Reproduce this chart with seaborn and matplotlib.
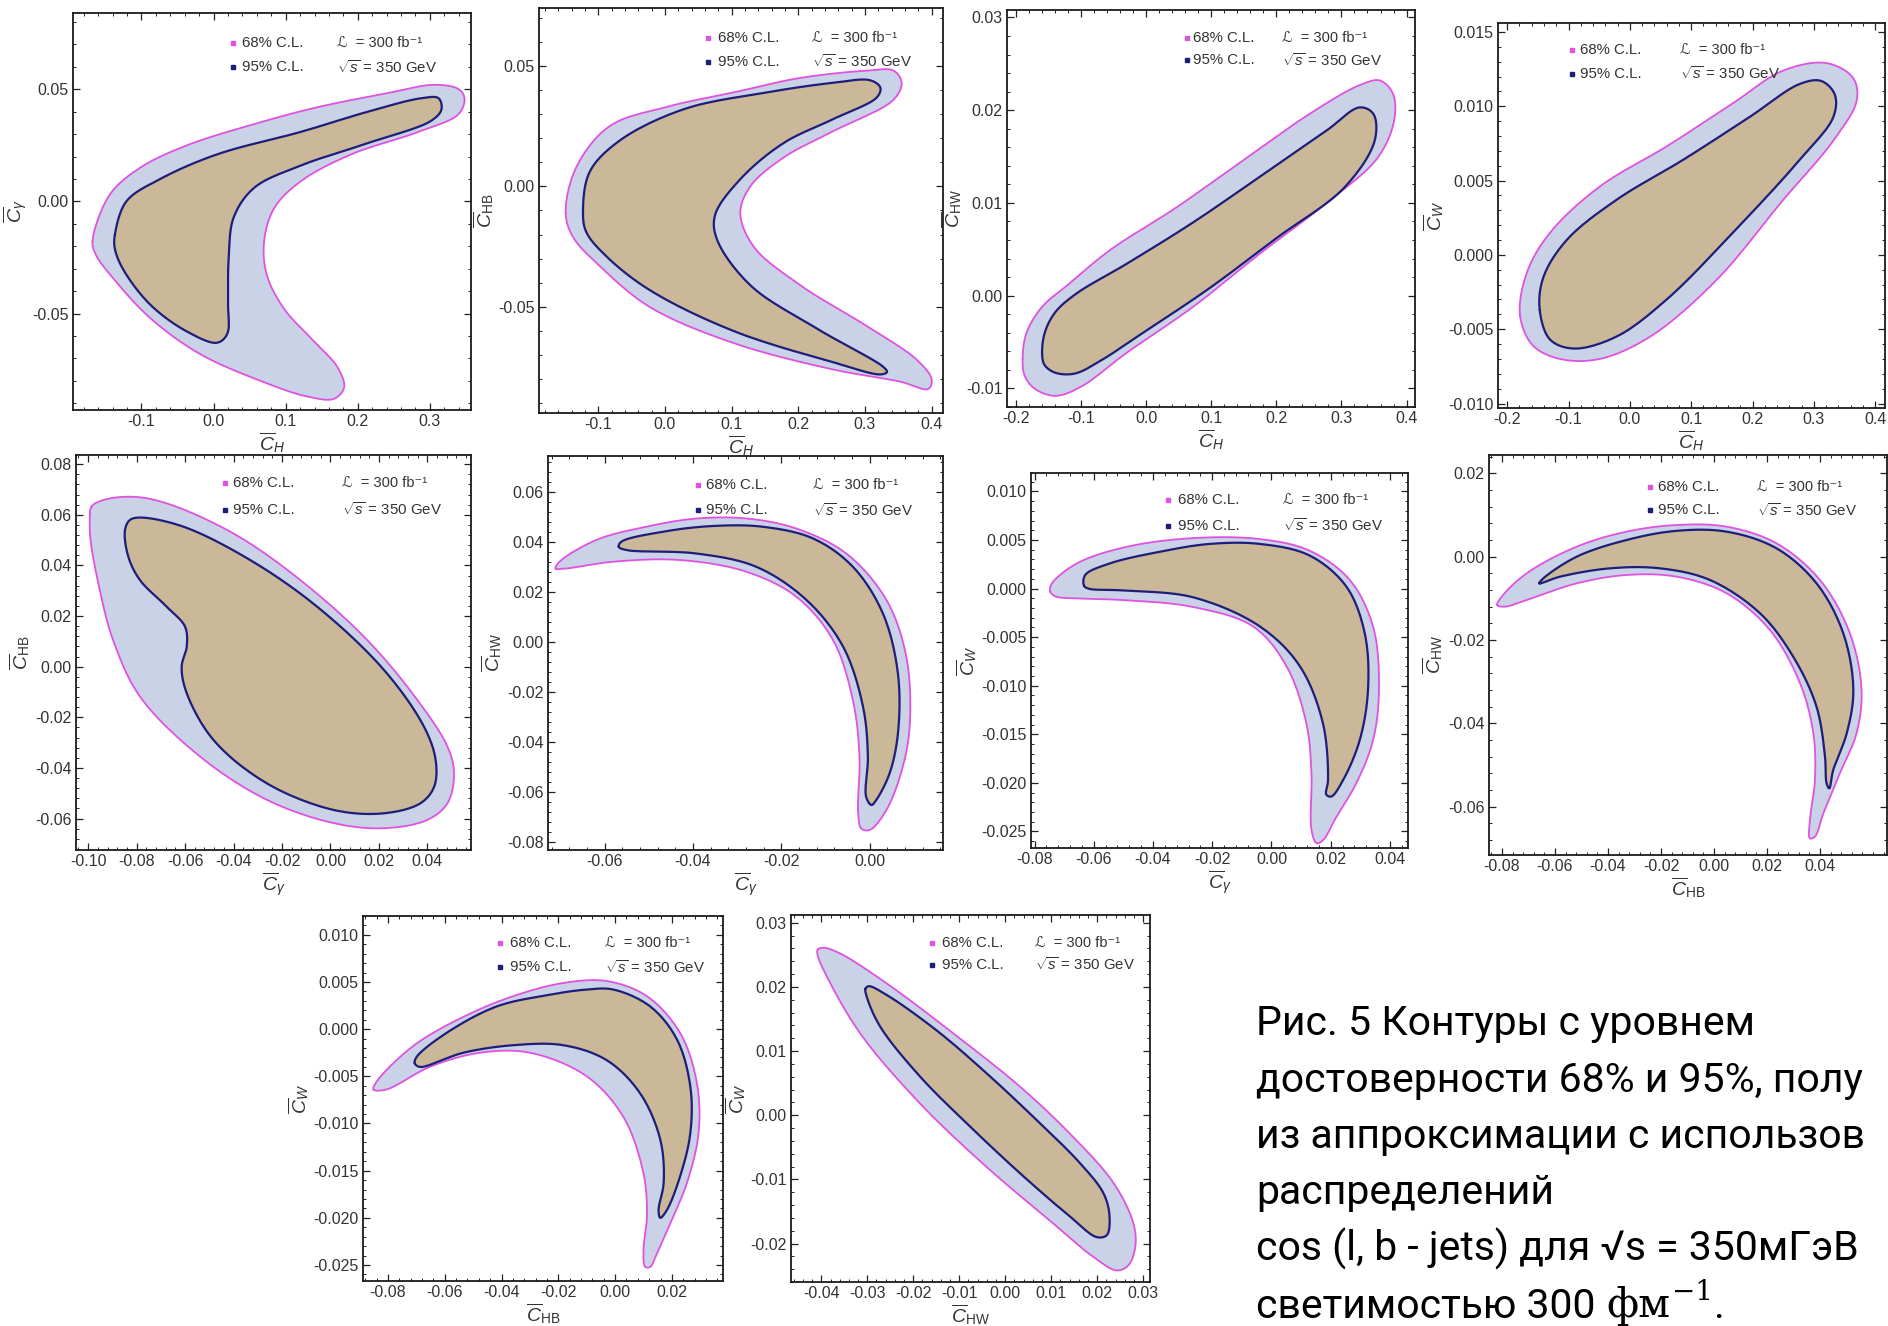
import numpy as np
import matplotlib
matplotlib.use("Agg")
import matplotlib.pyplot as plt
import seaborn as sns
from matplotlib.ticker import FixedLocator, FormatStrFormatter, AutoMinorLocator
from matplotlib.transforms import IdentityTransform

# ---------------- data: contour outlines ----------------
P1_OUTER = [(-0.168, -0.018), (-0.144, 0.003), (-0.102, 0.015), (-0.037, 0.025), (0.051, 0.034),
            (0.144, 0.042), (0.237, 0.048), (0.307, 0.052), (0.340, 0.050), (0.348, 0.046), (0.340, 0.039),
            (0.284, 0.031), (0.191, 0.021), (0.121, 0.009), (0.084, -0.003), (0.070, -0.018), (0.074, -0.033),
            (0.098, -0.048), (0.135, -0.061), (0.172, -0.074), (0.181, -0.083), (0.167, -0.088), (0.130, -0.087),
            (0.065, -0.080), (-0.019, -0.068), (-0.088, -0.052), (-0.140, -0.034), (-0.163, -0.024)]
P1_INNER = [(-0.137, -0.015), (-0.121, 0.000), (-0.074, 0.010), (0.005, 0.021), (0.121, 0.031),
            (0.214, 0.040), (0.288, 0.046), (0.312, 0.046), (0.316, 0.041), (0.302, 0.036),
            (0.214, 0.026), (0.121, 0.016), (0.056, 0.006), (0.028, -0.007), (0.021, -0.024), (0.020, -0.045),
            (0.019, -0.059), (0.005, -0.063), (-0.037, -0.058), (-0.088, -0.046), (-0.126, -0.030), (-0.137, -0.021)]

P2_OUTER = [(-0.149, -0.011), (-0.133, 0.008), (-0.083, 0.025), (0.003, 0.033), (0.103, 0.039), (0.203, 0.045),
            (0.303, 0.048), (0.343, 0.048), (0.355, 0.043), (0.343, 0.036), (0.253, 0.023), (0.178, 0.012),
            (0.128, 0.000), (0.113, -0.011), (0.133, -0.025), (0.203, -0.041), (0.303, -0.058), (0.378, -0.072),
            (0.400, -0.080), (0.395, -0.084), (0.353, -0.081), (0.253, -0.076), (0.103, -0.065), (-0.023, -0.050),
            (-0.098, -0.033), (-0.138, -0.021)]
P2_INNER = [(-0.123, -0.011), (-0.113, 0.006), (-0.068, 0.019), (0.028, 0.032), (0.153, 0.039), (0.253, 0.043),
            (0.308, 0.044), (0.323, 0.041), (0.318, 0.037), (0.253, 0.028), (0.178, 0.018), (0.113, 0.003),
            (0.075, -0.012), (0.078, -0.022), (0.128, -0.041), (0.228, -0.059), (0.328, -0.075), (0.333, -0.077),
            (0.323, -0.078), (0.253, -0.073), (0.103, -0.060), (-0.023, -0.043), (-0.088, -0.029), (-0.118, -0.019)]

P3_OUTER = [(-0.190, -0.0068), (-0.184, -0.0040), (-0.160, -0.0012), (-0.120, 0.0012), (-0.056, 0.0049),
            (0.046, 0.0095), (0.149, 0.0146), (0.251, 0.0196), (0.328, 0.0227), (0.359, 0.0232), (0.379, 0.0218),
            (0.381, 0.0189), (0.356, 0.0149), (0.277, 0.0100), (0.174, 0.0045), (0.072, -0.0012),
            (-0.031, -0.0062), (-0.100, -0.0098), (-0.140, -0.0108), (-0.172, -0.0100), (-0.187, -0.0086)]
P3_INNER = [(-0.160, -0.0064), (-0.156, -0.0040), (-0.140, -0.0018), (-0.108, 0.0002), (-0.031, 0.0034),
            (0.072, 0.0079), (0.174, 0.0128), (0.277, 0.0178), (0.328, 0.0203), (0.349, 0.0196), (0.351, 0.0167),
            (0.305, 0.0117), (0.200, 0.0062), (0.097, 0.0008), (-0.005, -0.0040), (-0.070, -0.0070),
            (-0.110, -0.0084), (-0.140, -0.0083), (-0.156, -0.0075)]

P4_OUTER = [(-0.179, -0.0041), (-0.168, -0.0012), (-0.130, 0.0015), (-0.049, 0.0046), (0.060, 0.0073),
            (0.168, 0.0102), (0.250, 0.0124), (0.321, 0.0129), (0.364, 0.0119), (0.370, 0.0104), (0.332, 0.0077),
            (0.250, 0.0037), (0.141, -0.0017), (0.033, -0.0055), (-0.049, -0.0070), (-0.114, -0.0070),
            (-0.158, -0.0061)]
P4_INNER = [(-0.147, -0.0037), (-0.141, -0.0015), (-0.103, 0.0010), (-0.022, 0.0037), (0.087, 0.0064),
            (0.196, 0.0093), (0.277, 0.0115), (0.312, 0.0117), (0.334, 0.0108), (0.332, 0.0093), (0.277, 0.0064),
            (0.168, 0.0015), (0.060, -0.0030), (-0.022, -0.0055), (-0.092, -0.0063), (-0.130, -0.0057)]

P5_OUTER = [(-0.0986, 0.0632), (-0.0938, 0.0658), (-0.0814, 0.0671), (-0.0676, 0.0645), (-0.0400, 0.0526),
            (-0.0124, 0.0342), (0.0152, 0.0105), (0.0359, -0.0132), (0.0483, -0.0316), (0.0510, -0.0421),
            (0.0483, -0.0539), (0.0400, -0.0605), (0.0221, -0.0638), (0.0014, -0.0618), (-0.0262, -0.0526),
            (-0.0538, -0.0355), (-0.0786, -0.0118), (-0.0897, 0.0105), (-0.0952, 0.0303), (-0.0990, 0.0500),
            (-0.0993, 0.0579)]
P5_INNER = [(-0.0848, 0.0539), (-0.0828, 0.0579), (-0.0786, 0.0589), (-0.0607, 0.0553), (-0.0331, 0.0421),
            (-0.0055, 0.0237), (0.0221, -0.0013), (0.0386, -0.0237), (0.0434, -0.0368), (0.0428, -0.0474),
            (0.0372, -0.0539), (0.0221, -0.0579), (0.0014, -0.0566), (-0.0262, -0.0461), (-0.0483, -0.0289),
            (-0.0593, -0.0105), (-0.0614, 0.0000), (-0.0593, 0.0079), (-0.0600, 0.0158), (-0.0676, 0.0237),
            (-0.0786, 0.0342), (-0.0834, 0.0434)]

P6_OUTER = [(-0.0711, 0.0293), (-0.0702, 0.0320), (-0.0619, 0.0407), (-0.0506, 0.0460), (-0.0392, 0.0493),
            (-0.0279, 0.0493), (-0.0166, 0.0453), (-0.0053, 0.0353), (0.0038, 0.0167), (0.0083, -0.0060),
            (0.0091, -0.0327), (0.0075, -0.0500), (0.0038, -0.0673), (0.0000, -0.0753), (-0.0019, -0.0747),
            (-0.0026, -0.0687), (-0.0023, -0.0460), (-0.0038, -0.0233), (-0.0083, 0.0007), (-0.0166, 0.0180),
            (-0.0279, 0.0280), (-0.0430, 0.0327), (-0.0581, 0.0320), (-0.0687, 0.0293)]
P6_INNER = [(-0.0568, 0.0380), (-0.0562, 0.0400), (-0.0468, 0.0440), (-0.0355, 0.0463), (-0.0242, 0.0460),
            (-0.0128, 0.0413), (-0.0038, 0.0300), (0.0030, 0.0113), (0.0064, -0.0127), (0.0064, -0.0367),
            (0.0045, -0.0527), (0.0015, -0.0633), (0.0004, -0.0653), (-0.0008, -0.0620), (-0.0004, -0.0460),
            (-0.0015, -0.0260), (-0.0060, -0.0020), (-0.0143, 0.0167), (-0.0257, 0.0300), (-0.0392, 0.0353),
            (-0.0551, 0.0367)]

P7_OUTER = [(-0.0747, -0.0003), (-0.0742, 0.0005), (-0.0657, 0.0026), (-0.0489, 0.0043), (-0.0264, 0.0052),
            (-0.0039, 0.0051), (0.0129, 0.0039), (0.0264, 0.0009), (0.0343, -0.0039), (0.0363, -0.0104),
            (0.0343, -0.0156), (0.0287, -0.0200), (0.0219, -0.0235), (0.0174, -0.0259), (0.0152, -0.0262),
            (0.0135, -0.0248), (0.0135, -0.0190), (0.0118, -0.0139), (0.0051, -0.0080), (-0.0062, -0.0039),
            (-0.0264, -0.0019), (-0.0489, -0.0012), (-0.0657, -0.0010), (-0.0730, -0.0008)]
P7_INNER = [(-0.0633, 0.0003), (-0.0629, 0.0014), (-0.0545, 0.0026), (-0.0376, 0.0038), (-0.0208, 0.0046),
            (-0.0039, 0.0046), (0.0129, 0.0034), (0.0253, 0.0002), (0.0315, -0.0046), (0.0326, -0.0104),
            (0.0298, -0.0156), (0.0242, -0.0197), (0.0202, -0.0214), (0.0185, -0.0212), (0.0191, -0.0197),
            (0.0174, -0.0139), (0.0096, -0.0080), (-0.0039, -0.0039), (-0.0264, -0.0009), (-0.0489, -0.0002),
            (-0.0618, 0.0000)]

P8_OUTER = [(-0.0818, -0.0116), (-0.0801, -0.0096), (-0.0707, -0.0040), (-0.0518, 0.0024), (-0.0330, 0.0060),
            (-0.0141, 0.0076), (0.0048, 0.0072), (0.0236, 0.0032), (0.0400, -0.0056), (0.0513, -0.0184),
            (0.0557, -0.0320), (0.0538, -0.0424), (0.0475, -0.0520), (0.0413, -0.0616), (0.0381, -0.0672),
            (0.0362, -0.0676), (0.0362, -0.0632), (0.0381, -0.0536), (0.0375, -0.0424), (0.0325, -0.0304),
            (0.0211, -0.0176), (0.0048, -0.0088), (-0.0141, -0.0048), (-0.0330, -0.0044), (-0.0518, -0.0064),
            (-0.0707, -0.0104), (-0.0789, -0.0120)]
P8_INNER = [(-0.0659, -0.0064), (-0.0644, -0.0052), (-0.0518, 0.0000), (-0.0330, 0.0040), (-0.0141, 0.0062),
            (0.0048, 0.0060), (0.0236, 0.0020), (0.0387, -0.0064), (0.0488, -0.0184), (0.0526, -0.0320),
            (0.0501, -0.0424), (0.0450, -0.0512), (0.0435, -0.0556), (0.0425, -0.0544), (0.0419, -0.0480),
            (0.0387, -0.0360), (0.0299, -0.0240), (0.0174, -0.0136), (-0.0015, -0.0056), (-0.0204, -0.0028),
            (-0.0392, -0.0028), (-0.0581, -0.0048)]

P9_OUTER = [(-0.0851, -0.0064), (-0.0841, -0.0056), (-0.0712, -0.0018), (-0.0535, 0.0013), (-0.0359, 0.0035),
            (-0.0182, 0.0049), (-0.0029, 0.0051), (0.0112, 0.0035), (0.0229, -0.0004), (0.0288, -0.0057),
            (0.0294, -0.0110), (0.0253, -0.0163), (0.0194, -0.0206), (0.0147, -0.0238), (0.0124, -0.0252),
            (0.0106, -0.0252), (0.0100, -0.0234), (0.0112, -0.0199), (0.0100, -0.0153), (0.0029, -0.0093),
            (-0.0100, -0.0050), (-0.0300, -0.0025), (-0.0476, -0.0025), (-0.0653, -0.0040), (-0.0806, -0.0064)]
P9_INNER = [(-0.0706, -0.0036), (-0.0698, -0.0029), (-0.0594, -0.0004), (-0.0418, 0.0024), (-0.0241, 0.0036),
            (-0.0100, 0.0042), (-0.0006, 0.0042), (0.0124, 0.0024), (0.0218, -0.0011), (0.0265, -0.0061),
            (0.0265, -0.0110), (0.0229, -0.0156), (0.0182, -0.0192), (0.0159, -0.0200), (0.0153, -0.0192),
            (0.0171, -0.0163), (0.0159, -0.0117), (0.0088, -0.0068), (-0.0029, -0.0033), (-0.0182, -0.0017),
            (-0.0359, -0.0017), (-0.0535, -0.0025), (-0.0688, -0.0040)]

P10_OUTER = [(-0.0408, 0.0258), (-0.0395, 0.0261), (-0.0359, 0.0252), (-0.0257, 0.0205), (-0.0112, 0.0127),
             (0.0033, 0.0044), (0.0141, -0.0029), (0.0236, -0.0106), (0.0279, -0.0169), (0.0283, -0.0205),
             (0.0268, -0.0234), (0.0243, -0.0242), (0.0192, -0.0221), (0.0105, -0.0169), (-0.0040, -0.0081),
             (-0.0185, 0.0018), (-0.0315, 0.0127), (-0.0388, 0.0216), (-0.0408, 0.0249)]
P10_INNER = [(-0.0304, 0.0197), (-0.0297, 0.0201), (-0.0257, 0.0187), (-0.0149, 0.0132), (-0.0040, 0.0065),
             (0.0069, -0.0008), (0.0163, -0.0075), (0.0214, -0.0122), (0.0227, -0.0158), (0.0221, -0.0187),
             (0.0199, -0.0190), (0.0141, -0.0158), (0.0033, -0.0091), (-0.0076, -0.0018), (-0.0185, 0.0060),
             (-0.0272, 0.0138), (-0.0301, 0.0184)]

# tick values
TK_H = [-0.1, 0.0, 0.1, 0.2, 0.3]
TK_H4 = [-0.1, 0.0, 0.1, 0.2, 0.3, 0.4]
TK_H24 = [-0.2, -0.1, 0.0, 0.1, 0.2, 0.3, 0.4]
TK_G5 = [-0.10, -0.08, -0.06, -0.04, -0.02, 0.00, 0.02, 0.04]
TK_G6 = [-0.06, -0.04, -0.02, 0.00]
TK_G7 = [-0.08, -0.06, -0.04, -0.02, 0.00, 0.02, 0.04]
TK_HB8 = [-0.08, -0.06, -0.04, -0.02, 0.00, 0.02, 0.04]
TK_HB9 = [-0.08, -0.06, -0.04, -0.02, 0.00, 0.02]
TK_HW10 = [-0.04, -0.03, -0.02, -0.01, 0.00, 0.01, 0.02, 0.03]
TY_1 = [-0.05, 0.00, 0.05]
TY_3 = [-0.01, 0.00, 0.01, 0.02, 0.03]
TY_4 = [-0.010, -0.005, 0.000, 0.005, 0.010, 0.015]
TY_5 = [-0.06, -0.04, -0.02, 0.00, 0.02, 0.04, 0.06, 0.08]
TY_6 = [-0.08, -0.06, -0.04, -0.02, 0.00, 0.02, 0.04, 0.06]
TY_7 = [-0.025, -0.020, -0.015, -0.010, -0.005, 0.000, 0.005, 0.010]
TY_8 = [-0.06, -0.04, -0.02, 0.00, 0.02]
TY_10 = [-0.02, -0.01, 0.00, 0.01, 0.02, 0.03]

LB_H = r'$\overline{C}_{H}$'
LB_G = r'$\overline{C}_{\gamma}$'
LB_HB = r'$\overline{C}_{\mathrm{HB}}$'
LB_HW = r'$\overline{C}_{\mathrm{HW}}$'
LB_W = r'$\overline{C}_{W}$'

# caption as visible in the reference (the two long lines run off its right edge there)
CAPTION = ["Рис. 5 Контуры с уровнем",
           "достоверности 68% и 95%, полу",
           "из аппроксимации с использов",
           "распределений",
           "cos (l, b - jets) для √s = 350мГэВ",
           "светимостью 300"]
CAPTION_UNIT = "фм"
CAPTION_EXP = "−1"

# ---------------- layout / style ----------------
PANELS = [
    dict(o=P1_OUTER, i=P1_INNER, box=(73, 471, 13, 410), xl=(-0.195, 0.357), yl=(-0.093, 0.084),
         xt=TK_H, yt=TY_1, xf='%.1f', yf='%.2f', xlab=LB_H, ylab=LB_G, leg=(0.402, 0.425, 0.663, 0.924, 0.864)),
    dict(o=P2_OUTER, i=P2_INNER, box=(539, 943, 8, 413), xl=(-0.189, 0.417), yl=(-0.094, 0.074),
         xt=TK_H4, yt=TY_1, xf='%.1f', yf='%.2f', xlab=LB_H, ylab=LB_HB, leg=(0.418, 0.443, 0.676, 0.926, 0.867)),
    dict(o=P3_OUTER, i=P3_INNER, box=(1007, 1415, 10, 407), xl=(-0.214, 0.413), yl=(-0.012, 0.0308),
         xt=TK_H24, yt=TY_3, xf='%.1f', yf='%.2f', xlab=LB_H, ylab=LB_HW, leg=(0.441, 0.456, 0.674, 0.929, 0.874)),
    dict(o=P4_OUTER, i=P4_INNER, box=(1498, 1885, 23, 408), xl=(-0.215, 0.416), yl=(-0.0103, 0.0156),
         xt=TK_H24, yt=TY_4, xf='%.1f', yf='%.3f', xlab=LB_H, ylab=LB_W, leg=(0.191, 0.212, 0.47, 0.93, 0.868)),
    dict(o=P5_OUTER, i=P5_INNER, box=(76, 471, 455, 850), xl=(-0.105, 0.058), yl=(-0.0724, 0.0836),
         xt=TK_G5, yt=TY_5, xf='%.2f', yf='%.2f', xlab=LB_G, ylab=LB_HB, leg=(0.377, 0.398, 0.673, 0.929, 0.861)),
    dict(o=P6_OUTER, i=P6_INNER, box=(548, 943, 456, 850), xl=(-0.0728, 0.0166), yl=(-0.0833, 0.0743),
         xt=TK_G6, yt=TY_6, xf='%.2f', yf='%.2f', xlab=LB_G, ylab=LB_HW, leg=(0.38, 0.40, 0.671, 0.926, 0.863)),
    dict(o=P7_OUTER, i=P7_INNER, box=(1031, 1408, 473, 848), xl=(-0.0812, 0.0461), yl=(-0.0267, 0.0119),
         xt=TK_G7, yt=TY_7, xf='%.2f', yf='%.3f', xlab=LB_G, ylab=LB_W, leg=(0.364, 0.39, 0.668, 0.928, 0.859)),
    dict(o=P8_OUTER, i=P8_INNER, box=(1489, 1887, 455, 855), xl=(-0.0849, 0.0653), yl=(-0.0716, 0.0244),
         xt=TK_HB8, yt=TY_8, xf='%.2f', yf='%.2f', xlab=LB_HB, ylab=LB_HW, leg=(0.405, 0.425, 0.673, 0.92, 0.862)),
    dict(o=P9_OUTER, i=P9_INNER, box=(363, 723, 916, 1281), xl=(-0.0888, 0.0380), yl=(-0.0267, 0.0120),
         xt=TK_HB9, yt=TY_7, xf='%.2f', yf='%.3f', xlab=LB_HB, ylab=LB_W, leg=(0.381, 0.408, 0.672, 0.926, 0.86)),
    dict(o=P10_OUTER, i=P10_INNER, box=(791, 1150, 915, 1282), xl=(-0.0466, 0.0315), yl=(-0.0260, 0.0312),
         xt=TK_HW10, yt=TY_10, xf='%.2f', yf='%.2f', xlab=LB_HW, ylab=LB_W, leg=(0.393, 0.42, 0.68, 0.924, 0.864)),
]

OUTER_FILL = '#c9d2e7'
INNER_FILL = '#cbb898'
PINK = '#e052e0'
NAVY = '#1e1e7a'
TXT = '#333333'

sns.set_theme(style="white")
plt.rcParams['font.family'] = ['Liberation Sans', 'DejaVu Sans']
plt.rcParams['mathtext.fontset'] = 'custom'
plt.rcParams['mathtext.rm'] = 'Liberation Sans'
plt.rcParams['mathtext.it'] = 'Liberation Sans:italic'
plt.rcParams['mathtext.bf'] = 'Liberation Sans:bold'
plt.rcParams['axes.unicode_minus'] = True

W, H = 1888, 1326
fig = plt.figure(figsize=(W / 100, H / 100), dpi=100)
fig.patch.set_facecolor('white')


def smooth_closed(pts, sx, sy, n=14):
    """Centripetal Catmull-Rom through the read points (rendering only)."""
    P = np.asarray(pts, float) * np.array([sx, sy])
    N = len(P)
    segs = []
    for k in range(N):
        p0, p1, p2, p3 = P[(k - 1) % N], P[k], P[(k + 1) % N], P[(k + 2) % N]

        def nxt(ti, a, b):
            return ti + max(np.hypot(*(b - a)), 1e-9) ** 0.5
        t0 = 0.0
        t1 = nxt(t0, p0, p1)
        t2 = nxt(t1, p1, p2)
        t3 = nxt(t2, p2, p3)
        t = np.linspace(t1, t2, n, endpoint=False)[:, None]
        A1 = (t1 - t) / (t1 - t0) * p0 + (t - t0) / (t1 - t0) * p1
        A2 = (t2 - t) / (t2 - t1) * p1 + (t - t1) / (t2 - t1) * p2
        A3 = (t3 - t) / (t3 - t2) * p2 + (t - t2) / (t3 - t2) * p3
        B1 = (t2 - t) / (t2 - t0) * A1 + (t - t0) / (t2 - t0) * A2
        B2 = (t3 - t) / (t3 - t1) * A2 + (t - t1) / (t3 - t1) * A3
        segs.append((t2 - t) / (t2 - t1) * B1 + (t - t1) / (t2 - t1) * B2)
    C = np.vstack(segs)
    C = np.vstack([C, C[:1]])
    return C[:, 0] / sx, C[:, 1] / sy


for p in PANELS:
    l, r, t, b = p['box']
    ax = fig.add_axes([l / W, 1 - b / H, (r - l) / W, (b - t) / H])
    ax.set_facecolor('white')
    sx = (r - l) / (p['xl'][1] - p['xl'][0])
    sy = (b - t) / (p['yl'][1] - p['yl'][0])
    ox, oy = smooth_closed(p['o'], sx, sy)
    ix, iy = smooth_closed(p['i'], sx, sy)
    ax.fill(ox, oy, color=OUTER_FILL, lw=0, zorder=1)
    ax.fill(ix, iy, color=INNER_FILL, lw=0, zorder=2)
    sns.lineplot(x=ox, y=oy, sort=False, estimator=None, color=PINK, linewidth=1.3, ax=ax, zorder=3)
    sns.lineplot(x=ix, y=iy, sort=False, estimator=None, color=NAVY, linewidth=1.6, ax=ax, zorder=4)
    ax.set_xlim(*p['xl'])
    ax.set_ylim(*p['yl'])
    ax.xaxis.set_major_locator(FixedLocator(p['xt']))
    ax.yaxis.set_major_locator(FixedLocator(p['yt']))
    ax.xaxis.set_major_formatter(FormatStrFormatter(p['xf']))
    ax.yaxis.set_major_formatter(FormatStrFormatter(p['yf']))
    ax.xaxis.set_minor_locator(AutoMinorLocator(5))
    ax.yaxis.set_minor_locator(AutoMinorLocator(5))
    ax.tick_params(which='both', direction='in', top=True, right=True, bottom=True, left=True,
                   colors='#222222', labelcolor=TXT)
    ax.tick_params(which='major', length=5, width=0.9, labelsize=11.5, pad=3)
    ax.tick_params(which='minor', length=2.5, width=0.7)
    for s in ax.spines.values():
        s.set_color('#1a1a1a')
        s.set_linewidth(1.3)
    ax.set_xlabel(p['xlab'], fontsize=14, color=TXT, labelpad=1)
    ax.set_ylabel(p['ylab'], fontsize=14, color=TXT, labelpad=2)
    mx, tx, lx, y1, y2 = p['leg']
    ax.plot([mx], [y1], marker='s', ms=3.4, color=PINK, transform=ax.transAxes, zorder=6)
    ax.plot([mx], [y2], marker='s', ms=3.4, color=NAVY, transform=ax.transAxes, zorder=6)
    ax.text(tx, y1, '68% C.L.', transform=ax.transAxes, fontsize=10.8, color=TXT, va='center', ha='left')
    ax.text(tx, y2, '95% C.L.', transform=ax.transAxes, fontsize=10.8, color=TXT, va='center', ha='left')
    ax.text(lx, y1, 'ℒ  = 300 fb⁻¹', transform=ax.transAxes, fontsize=10.5, color=TXT, va='center',
            ha='left', family=['Liberation Sans', 'DejaVu Sans'])
    ax.text(lx, y2, r'$\sqrt{s}$ = 350 GeV', transform=ax.transAxes, fontsize=10.8, color=TXT,
            va='center', ha='left')

cap_fam = ['Roboto', 'DejaVu Sans']
last = None
for k, line in enumerate(CAPTION):
    last = fig.text(1256 / W, 1 - (1024 + 56.5 * k) / H, line, fontsize=29.5, color='black', va='baseline',
                    ha='left', family=cap_fam)
    last.set_y(1 - (1024 + 56.5 * k + 11) / H)

renderer = fig.canvas.get_renderer()
bb = last.get_window_extent(renderer)
base_y = (1 - (1024 + 56.5 * 5 + 11) / H) * H
unit = fig.text(bb.x1 + 11, base_y, CAPTION_UNIT, transform=IdentityTransform(), fontsize=29.5,
                color='black', va='baseline', ha='left', family=['DejaVu Serif'])
bb2 = unit.get_window_extent(renderer)
expo = fig.text(bb2.x1 + 1, base_y + 17, CAPTION_EXP, transform=IdentityTransform(), fontsize=20,
                color='black', va='baseline', ha='left', family=['DejaVu Serif'])
bb3 = expo.get_window_extent(renderer)
fig.text(bb3.x1 + 1, base_y, '.', transform=IdentityTransform(), fontsize=29.5, color='black',
         va='baseline', ha='left', family=cap_fam)

fig.savefig('out.png', dpi=100, facecolor='white')
